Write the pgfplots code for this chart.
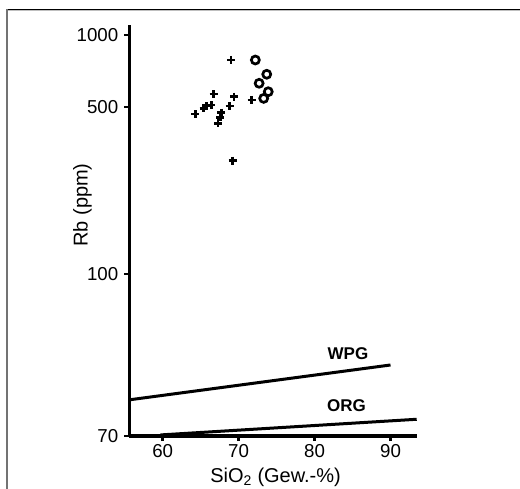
\documentclass[border=0pt]{standalone}
\usepackage{pgfplots}
\pgfplotsset{compat=1.18}
\usepackage{fontspec}
\setmainfont{Liberation Sans}
\begin{document}
\begin{tikzpicture}
\useasboundingbox (0bp,0bp) rectangle (520bp,489bp);
\draw[black, line width=1bp] (6bp,479.5bp) -- (520bp,479.5bp);
\draw[black!25, line width=0.8bp] (7.5bp,478.4bp) -- (520bp,478.4bp);
\draw[black!55, line width=1.6bp] (6.8bp,479.5bp) -- (6.8bp,0bp);
\begin{axis}[
  at={(129.3bp,53bp)}, anchor=south west,
  scale only axis, width=287.4bp, height=410.9bp,
  xmin=55.6, xmax=93.45, ymin=70, ymax=1100,
  y coord trafo/.code={\pgfmathparse{#1>=100 ? ln(#1)/ln(10) : 2-(100-#1)*0.0226}},
  axis x line=bottom, axis y line=left,
  axis line style={-, line width=3bp, black},
  tick align=outside, major tick length=5bp,
  every tick/.style={line width=2.8bp, black},
  minor tick num=0,
  xtick={60,70,80,90}, xticklabels={60,70,80,90},
  ytick={70,100,500,1000}, yticklabels={70,100,500,1000},
  /pgf/number format/assume math mode=true,
  tick label style={font=\fontsize{18.7bp}{21bp}\selectfont},
  xticklabel style={anchor=north, yshift=-0.3bp},
  yticklabel style={anchor=east, xshift=-2.5bp},
  xlabel={SiO\textsubscript{2} (Gew.-\%)},
  ylabel={Rb (ppm)},
  label style={font=\fontsize{20bp}{23bp}\selectfont},
  xlabel style={at={(rel axis cs:0.509,-0.112)}, anchor=base},
  ylabel style={at={(rel axis cs:-0.163,0.562)}, anchor=center},
  clip=false,
]
\addplot[only marks, mark=+, mark size=4bp, line width=2.7bp, black] coordinates {
 (64.3,467) (65.4,493) (65.8,505) (66.4,509) (66.7,566) (67.7,473)
 (67.6,452) (67.3,427) (68.8,505) (69.4,552) (71.7,535) (69.2,298) (69.0,786)
};
\addplot[only marks, mark=o, mark size=4bp, line width=2.7bp, black] coordinates {
 (72.2,786) (73.7,685) (72.7,628) (73.9,579) (73.3,543)
};
\addplot[line width=3bp, black] coordinates {(55.6,76.7) (90,83.15)};
\addplot[line width=3bp, black] coordinates {(59.7,70.2) (93.45,73.1)};
\node[font=\fontsize{17bp}{20bp}\selectfont\bfseries] at (axis cs:84.4,85.3) {WPG};
\node[font=\fontsize{17bp}{20bp}\selectfont\bfseries] at (axis cs:84.2,75.7) {ORG};
\end{axis}
\end{tikzpicture}
\end{document}
